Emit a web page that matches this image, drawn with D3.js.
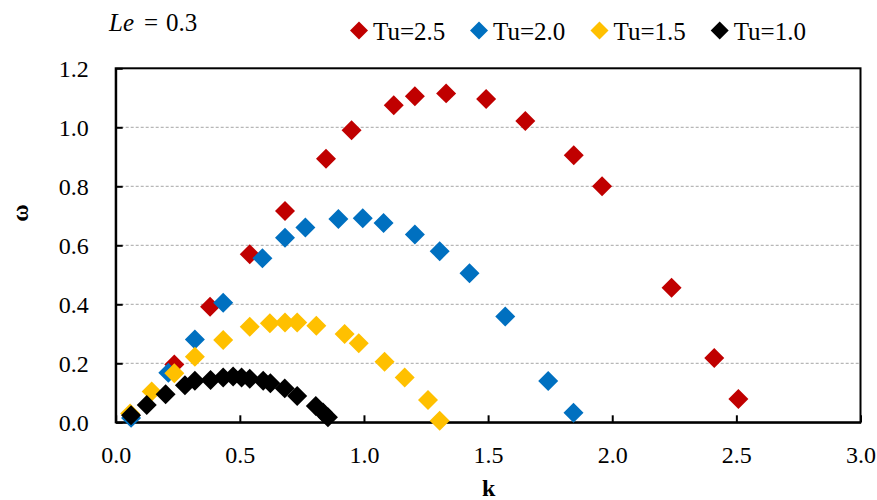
<!DOCTYPE html>
<html>
<head>
<meta charset="utf-8">
<script src="https://cdn.jsdelivr.net/npm/d3@7"></script>
<style>
  html, body { margin: 0; padding: 0; background: #fff; }
  svg { display: block; }
  text { font-family: "Liberation Serif", "Times New Roman", serif; fill: #000; }
</style>
</head>
<body>
<svg id="chart" width="877" height="500"></svg>
<script>
// Dispersion curves ω(k) for several Tu values at Le = 0.3
const seriesNames = ["Tu=2.5", "Tu=2.0", "Tu=1.5", "Tu=1.0"];
const seriesColors = ["#C00000", "#0070C0", "#FFC000", "#000000"];

const kTu25 = [0.236, 0.380, 0.540, 0.682, 0.847, 0.950, 1.120, 1.205, 1.331, 1.492, 1.650, 1.845, 1.959, 2.239, 2.411, 2.508];
const wTu25 = [0.196, 0.392, 0.570, 0.716, 0.893, 0.990, 1.075, 1.105, 1.115, 1.096, 1.021, 0.905, 0.800, 0.456, 0.218, 0.079];

const kTu20 = [0.062, 0.212, 0.319, 0.433, 0.591, 0.682, 0.764, 0.897, 0.995, 1.079, 1.205, 1.305, 1.425, 1.569, 1.742, 1.844];
const wTu20 = [0.015, 0.168, 0.281, 0.405, 0.556, 0.626, 0.660, 0.689, 0.692, 0.676, 0.637, 0.580, 0.505, 0.359, 0.140, 0.032];

const kTu15 = [0.058, 0.145, 0.236, 0.319, 0.433, 0.540, 0.621, 0.682, 0.731, 0.808, 0.922, 0.979, 1.083, 1.164, 1.258, 1.305];
const wTu15 = [0.030, 0.104, 0.166, 0.222, 0.279, 0.324, 0.336, 0.338, 0.338, 0.327, 0.299, 0.268, 0.205, 0.152, 0.076, 0.005];

const kTu10 = [0.062, 0.125, 0.201, 0.279, 0.319, 0.382, 0.433, 0.473, 0.507, 0.540, 0.594, 0.623, 0.681, 0.731, 0.806, 0.835, 0.855];
const wTu10 = [0.024, 0.059, 0.095, 0.126, 0.141, 0.143, 0.152, 0.155, 0.152, 0.148, 0.141, 0.132, 0.115, 0.089, 0.055, 0.033, 0.017];

const xTicks = [0, 0.5, 1.0, 1.5, 2.0, 2.5, 3.0];
const yTicks = [0, 0.2, 0.4, 0.6, 0.8, 1.0, 1.2];

const seriesK = [kTu25, kTu20, kTu15, kTu10];
const seriesW = [wTu25, wTu20, wTu15, wTu10];

const svg = d3.select("#chart");
const plot = { left: 115.7, right: 860.5, top: 68.3, bottom: 422.3 };

const x = d3.scaleLinear().domain([0, 3]).range([plot.left, plot.right]);
const y = d3.scaleLinear().domain([0, 1.2]).range([plot.bottom, plot.top]);

// dashed horizontal gridlines
svg.append("g")
  .selectAll("line")
  .data(yTicks.filter(v => v > 0 && v < 1.2))
  .join("line")
  .attr("x1", plot.left).attr("x2", plot.right)
  .attr("y1", d => y(d)).attr("y2", d => y(d))
  .attr("stroke", "#a6a6a6")
  .attr("stroke-width", 1)
  .attr("stroke-dasharray", "3,2");

// plot frame
svg.append("rect")
  .attr("x", plot.left).attr("y", plot.top)
  .attr("width", plot.right - plot.left)
  .attr("height", plot.bottom - plot.top)
  .attr("fill", "none")
  .attr("stroke", "#000")
  .attr("stroke-width", 2);

// axes with inward ticks
const fmt = d3.format(".1f");
const xAxis = svg.append("g")
  .attr("transform", `translate(0,${plot.bottom})`)
  .call(d3.axisBottom(x).tickValues(xTicks).tickFormat(fmt).tickSizeInner(-7).tickSizeOuter(0).tickPadding(24));
const yAxis = svg.append("g")
  .attr("transform", `translate(${plot.left},0)`)
  .call(d3.axisLeft(y).tickValues(yTicks).tickFormat(fmt).tickSizeInner(-7).tickSizeOuter(0).tickPadding(27));

[xAxis, yAxis].forEach(g => {
  g.attr("font-family", null);
  g.select(".domain").attr("stroke", "#000").attr("stroke-width", 2);
  g.selectAll(".tick line").attr("stroke", "#000").attr("stroke-width", 2);
  g.selectAll(".tick text")
    .attr("font-size", 24)
    .attr("fill", "#000");
});
yAxis.selectAll(".tick text").attr("dy", "0.34em");

// diamond markers
const diamond = d3.symbol().type(d3.symbolSquare).size(200);
seriesNames.forEach((name, i) => {
  const pts = seriesK[i].map((k, j) => ({ k, w: seriesW[i][j] }));
  svg.append("g")
    .selectAll("path")
    .data(pts)
    .join("path")
    .attr("d", diamond)
    .attr("transform", d => `translate(${x(d.k)},${y(d.w)}) rotate(45)`)
    .attr("fill", seriesColors[i]);
});

// axis titles
svg.append("text")
  .attr("x", x(1.5) + 0.5).attr("y", 496)
  .attr("text-anchor", "middle")
  .attr("font-size", 24).attr("font-weight", "bold")
  .text("k");

svg.append("text")
  .attr("transform", "translate(28,213) rotate(-90)")
  .attr("text-anchor", "middle")
  .attr("font-size", 24).attr("font-weight", "bold")
  .text("ω");

// parameter annotation, spaced like an equation
const note = svg.append("text").attr("x", 109).attr("y", 31).attr("font-size", 25);
note.append("tspan").attr("font-style", "italic").text("Le");
note.append("tspan").attr("dx", 10).text("=");
note.append("tspan").attr("dx", 8).text("0.3");

// legend
const legendX = [359, 479, 599.5, 719.7];
const legendSym = d3.symbol().type(d3.symbolSquare).size(162);
const legend = svg.append("g");
seriesNames.forEach((name, i) => {
  legend.append("path")
    .attr("d", legendSym)
    .attr("transform", `translate(${legendX[i]},30.5) rotate(45)`)
    .attr("fill", seriesColors[i]);
  legend.append("text")
    .attr("x", legendX[i] + 14).attr("y", 39.5)
    .attr("font-size", 25)
    .text(name);
});
</script>
</body>
</html>
